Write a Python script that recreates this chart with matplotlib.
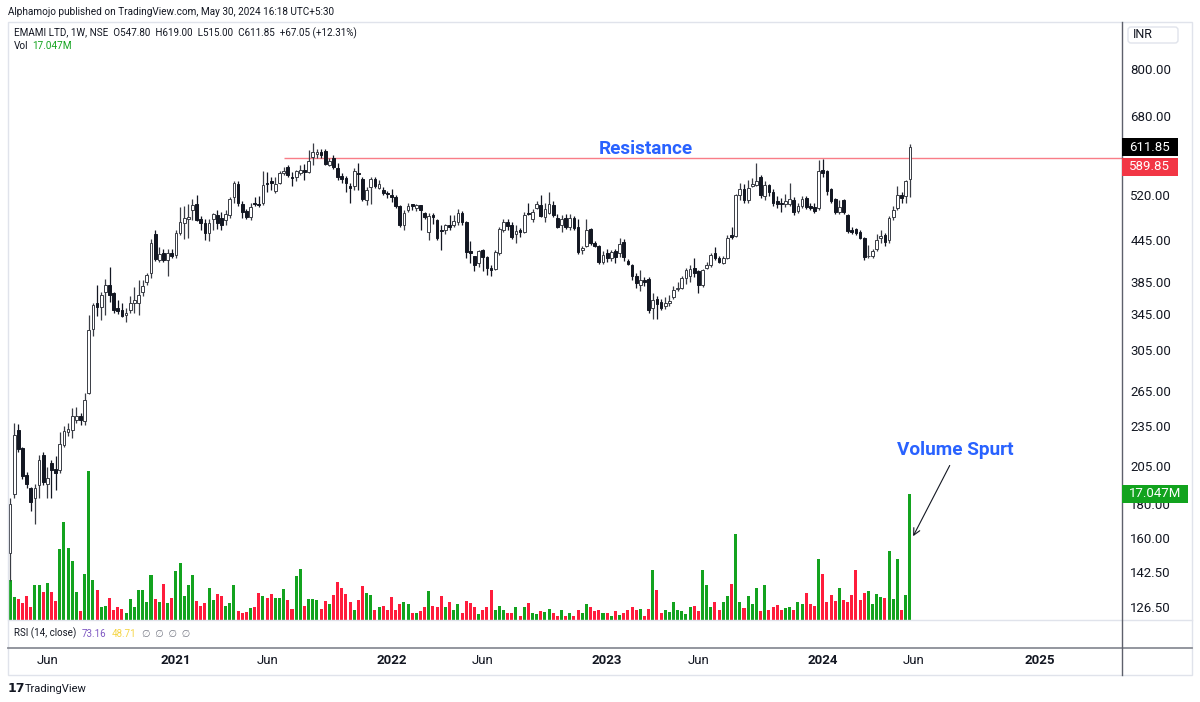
import matplotlib
matplotlib.use('Agg')
import matplotlib.pyplot as plt
import matplotlib.dates as mdates
import matplotlib.ticker as mticker
from matplotlib.patches import Rectangle, FancyBboxPatch
import numpy as np
import pandas as pd

W, H = 1200, 702
FONT = ['Roboto', 'DejaVu Sans']

# ---------------- data (weekly candles, EMAMI LTD NSE) ----------------
opens = [152,186,232,218,199,190,184,192,213,193,
         207,203,202,220,230,232,240,243,239,263,
         328,358,354,372,381,371,352,350,344,350,
         358,359,373,385,397,455,416,426,415,426,
         423,456,471,479,494,504,478,472,456,479,
         485,480,476,485,515,539,503,491,482,505,
         504,505,542,544,527,542,560,572,553,552,
         560,566,562,592,598,601,604,576,590,570,
         554,551,536,535,561,549,510,534,549,532,
         528,523,520,516,500,469,493,503,496,502,
         488,458,485,476,461,461,469,469,473,488,
         473,428,421,411,430,420,405,403,425,460,
         474,469,454,461,458,488,478,496,502,481,
         489,502,480,469,480,465,480,465,430,436,
         462,440,436,413,426,418,428,425,442,414,
         408,394,381,388,390,353,364,360,355,358,
         366,376,378,391,393,405,400,381,405,409,
         425,419,412,419,452,451,519,530,510,536,
         538,553,517,537,524,508,506,503,503,510,
         491,500,514,500,499,497,566,564,530,512,
         490,510,485,461,462,458,448,421,421,431,
         448,452,445,482,497,520,517,547.80]
highs = [184,238,237,219,201,191,193,213,215,204,
         209,212,230,235,238,250,251,246,263,344,
         358,381,372,390,406,372,362,358,352,367,
         379,388,388,398,446,460,434,432,432,432,
         461,498,500,504,513,519,484,479,479,489,
         494,490,493,515,545,545,508,495,505,515,
         517,563,562,552,552,563,572,576,562,566,
         576,577,606,620,608,608,608,590,596,580,
         560,554,541,570,579,552,533,552,553,547,
         533,527,531,519,502,494,506,504,503,502,
         490,488,488,479,469,470,485,485,495,492,
         475,443,421,430,432,421,409,430,466,479,
         479,474,469,464,490,505,495,508,519,506,
         524,508,486,485,486,486,484,479,436,479,
         464,443,438,428,431,430,432,448,446,417,
         410,398,402,392,392,371,367,364,366,368,
         380,386,393,405,408,418,402,403,413,426,
         434,421,421,453,466,522,542,539,547,550,
         579,557,545,540,530,518,514,521,541,516,
         506,517,517,505,506,586,588,566,532,514,
         510,512,487,466,463,461,449,438,432,455,
         461,456,483,500,535,524,547,619.00]
lows = [138,184,215,196,190,176,168,184,192,184,
        184,189,200,219,227,226,238,236,236,262,
        320,343,338,344,360,347,345,342,336,346,
        346,344,367,381,391,414,413,413,393,418,
        419,453,447,448,477,475,461,445,443,461,
        462,461,468,480,505,500,480,478,477,500,
        498,502,525,528,523,539,556,552,535,545,
        556,547,560,575,590,590,576,574,568,547,
        541,525,506,528,528,509,502,504,532,530,
        519,514,507,497,465,461,490,493,492,461,
        478,445,470,445,430,455,461,466,469,469,
        418,412,400,406,400,395,393,401,423,458,
        461,446,441,450,456,485,474,495,481,473,
        487,482,463,458,462,460,461,424,424,435,
        438,434,410,410,413,414,412,420,414,408,
        388,377,374,380,346,340,340,350,351,355,
        363,374,376,383,386,392,371,379,403,406,
        416,411,410,417,447,449,510,506,506,533,
        535,514,510,517,500,497,490,499,500,485,
        488,497,495,493,488,493,553,519,505,487,
        487,487,456,455,453,446,416,418,418,428,
        441,436,440,477,493,505,505,515.00]
closes = [180,228,217,198,193,181,190,209,194,197,
          202,200,221,231,233,243,243,240,257,327,
          356,354,369,381,369,350,349,343,347,359,
          362,369,380,395,440,417,424,416,426,422,
          456,473,480,482,502,477,471,456,471,486,
          471,469,486,513,541,505,490,482,498,503,
          502,537,540,541,540,560,563,556,551,563,
          565,562,584,602,602,596,578,584,572,552,
          549,541,532,563,558,513,528,549,535,539,
          523,521,516,500,469,488,500,500,501,493,
          481,484,481,448,459,469,466,475,489,473,
          427,425,409,428,420,405,402,427,462,474,
          467,450,459,458,485,487,490,504,483,495,
          504,485,465,479,465,480,464,427,433,460,
          441,436,413,423,418,427,420,439,420,410,
          393,384,388,386,350,362,357,353,359,361,
          375,378,391,402,403,398,381,402,409,423,
          418,413,419,448,450,519,530,510,532,540,
          545,519,537,524,506,504,503,508,512,490,
          500,512,498,496,491,563,560,526,508,490,
          498,490,459,458,456,448,420,422,428,445,
          451,442,480,493,520,514,544,611.85]
volumes_m = [5.4,3.1,2.8,2.3,3.3,1.7,4.7,4.8,3.8,5.0,
             3.8,2.6,9.6,13.2,9.8,8.0,3.8,1.2,6.2,20.2,
             5.4,4.1,1.7,1.9,3.0,1.4,1.7,1.5,0.9,2.8,
             1.7,4.0,4.0,2.4,6.1,2.9,2.5,4.9,2.3,3.0,
             6.6,7.7,3.3,4.7,6.1,2.6,1.9,2.3,4.3,2.7,
             3.5,3.3,1.9,2.3,4.8,1.2,1.0,1.1,1.6,1.8,
             3.6,3.2,3.0,3.5,3.0,3.0,4.2,2.7,1.5,5.9,
             6.9,1.9,2.8,2.8,2.7,1.5,2.6,2.1,3.4,5.2,
             4.3,3.5,2.5,1.4,2.7,4.6,3.7,3.4,1.4,1.8,
             1.9,1.3,3.1,1.3,2.1,2.4,2.1,1.0,1.0,1.2,
             1.8,3.9,1.9,1.8,3.3,1.8,2.4,1.4,2.1,0.9,
             2.6,2.3,1.8,0.8,1.3,1.8,4.1,1.3,1.9,1.4,
             0.9,0.9,1.8,0.6,1.7,2.3,0.9,0.8,1.2,1.1,
             1.5,1.0,0.6,1.4,0.5,0.9,0.5,1.3,1.0,2.1,
             1.8,1.2,1.4,0.9,1.0,0.6,1.2,0.7,1.0,1.3,
             1.7,1.4,1.5,0.6,1.5,6.7,4.1,0.9,1.3,1.1,
             2.5,1.4,1.2,0.8,1.7,1.9,1.2,6.8,4.8,1.7,
             2.4,1.4,2.4,3.2,4.9,11.7,2.4,1.6,3.2,2.2,
             4.3,1.2,4.7,1.4,1.7,2.0,1.3,1.6,1.8,1.3,
             2.5,2.1,3.6,2.2,1.9,8.3,6.2,2.5,3.4,2.6,
             4.3,2.7,2.5,3.4,6.8,2.7,3.7,3.9,2.2,3.5,
             3.1,3.0,9.3,2.9,8.3,1.4,3.4,17.047]
first_week = '2020-03-30'
dates = pd.date_range(first_week, periods=len(closes), freq='7D')

price_ticks = [800, 680, 520, 445, 385, 345, 305, 265, 235, 205, 180, 160, 142.5, 126.5]
time_tick_dates = ['2020-06-01', '2021-01-04', '2021-06-07', '2022-01-03', '2022-06-06',
                   '2023-01-02', '2023-06-05', '2024-01-01', '2024-06-03', '2025-01-01']
time_tick_labels = ['Jun', '2021', 'Jun', '2022', 'Jun', '2023', 'Jun', '2024', 'Jun', '2025']
resistance = 589.85
resistance_from = 66          # index of the week where the drawn line starts
last_close = 611.85
last_volume = 17.047

UP_VOL, DN_VOL = '#13a31f', '#ff1c3c'
DARK = '#131722'

# ---------------- figure ----------------
fig = plt.figure(figsize=(12, 7.02), dpi=100)
fig.patch.set_facecolor('white')

def rect(x0, y0, x1, y1):
    return [x0 / W, 1 - y1 / H, (x1 - x0) / W, (y1 - y0) / H]

xn = mdates.date2num(dates.to_pydatetime())
x_left = xn[0] - 3.4
x_right = x_left + 1880.5

o = np.array(opens, float); c = np.array(closes, float)
h = np.array(highs, float); l = np.array(lows, float)
up = c >= o

# volume (behind)
vax = fig.add_axes(rect(8, 22, 1122, 620))
vax.set_xlim(x_left, x_right)
vax.set_ylim(0, 80.9)
vax.axis('off')
vax.bar(xn, volumes_m, width=5.1, color=[UP_VOL if u else DN_VOL for u in up],
        linewidth=0, align='center')

# price
ax = fig.add_axes(rect(8, 22, 1122, 620))
ax.patch.set_alpha(0)
ax.set_yscale('log')
ax.set_xlim(x_left, x_right)
ax.set_ylim(120.9, 940)
for s in ax.spines.values():
    s.set_visible(False)

wick_cols = ['#3a3d45' if u else DARK for u in up]
ax.vlines(xn, l, h, colors=wick_cols, linewidth=0.9, zorder=2)
bot = np.minimum(o, c); top = np.maximum(o, c)
ax.bar(xn, top - bot, bottom=bot, width=4.6,
       color=['white' if u else DARK for u in up],
       edgecolor=wick_cols, linewidth=0.7, zorder=3)

ax.hlines(resistance, xn[resistance_from], x_right, colors='#F7525F',
          linewidth=1.0, alpha=0.75, zorder=1)

ax.yaxis.tick_right()
ax.yaxis.set_minor_locator(mticker.NullLocator())
ax.yaxis.set_minor_formatter(mticker.NullFormatter())
ax.set_yticks(price_ticks)
ax.set_yticklabels([f'{v:.2f}' for v in price_ticks], family=FONT)
ax.tick_params(axis='y', length=0, pad=6, labelsize=9.5, labelcolor=DARK)
ax.set_xticks([])

# ---------------- overlay in pixel space ----------------
ov = fig.add_axes([0, 0, 1, 1])
ov.set_xlim(0, W); ov.set_ylim(H, 0)
ov.axis('off'); ov.patch.set_alpha(0)

def ypix(axis, val):
    return H - axis.transData.transform((x_left, val))[1]

def xpix(val):
    return ax.transData.transform((val, 300))[0]

# frame
ov.add_patch(Rectangle((8, 22), 1184, 653, fill=False, ec='#E0E3EB', lw=1))
ov.plot([8, 1192], [620, 620], color='#E0E3EB', lw=1)
ov.plot([8, 1192], [647.5, 647.5], color='#8a8d96', lw=1.3)
ov.plot([1122, 1122], [22, 675], color='#5d606b', lw=1)

# header
ov.text(8, 12, 'Alphamojo published on TradingView.com, May 30, 2024 16:18 UTC+5:30',
        fontsize=7.2, color=DARK, va='center', ha='left', family=FONT)
ov.text(14, 33, 'EMAMI LTD, 1W, NSE  O547.80  H619.00  L515.00  C611.85  +67.05 (+12.31%)',
        fontsize=7.1, color=DARK, va='center', ha='left', family=FONT)
t = ov.text(14, 46, 'Vol', fontsize=7.2, color=DARK, va='center', ha='left', family=FONT)
ov.annotate('17.047M', xy=(1, 0), xycoords=t, xytext=(3, 0), textcoords='offset points',
            fontsize=7.2, color=UP_VOL, va='bottom', ha='left', family=FONT)

# RSI header
t = ov.text(14, 633, 'RSI (14, close)', fontsize=7.0, color=DARK, va='center', ha='left', family=FONT)
t = ov.annotate('73.16', xy=(1, 0), xycoords=t, xytext=(4, 0), textcoords='offset points',
                fontsize=7.0, color='#7E57C2', va='bottom', ha='left', family=FONT)
t = ov.annotate('48.71', xy=(1, 0), xycoords=t, xytext=(4, 0), textcoords='offset points',
                fontsize=7.0, color='#F5D547', va='bottom', ha='left', family=FONT)
ov.annotate('\u2205  \u2205  \u2205  \u2205', xy=(1, 0), xycoords=t, xytext=(4, 0),
            textcoords='offset points', fontsize=7.0, color='#787B86', va='bottom',
            ha='left', family=FONT)

# INR box
ov.add_patch(FancyBboxPatch((1128, 27), 50, 16, boxstyle='round,pad=0,rounding_size=3',
                            fc='white', ec='#E0E3EB', lw=1))
ov.text(1133, 35, 'INR', fontsize=9, color=DARK, va='center', ha='left', family=FONT)

# price labels
yc = ypix(ax, last_close)
ov.add_patch(Rectangle((1122, yc - 9), 56, 18, fc='#000000', ec='none', zorder=5))
ov.text(1129, yc, f'{last_close:.2f}', fontsize=9.5, color='white', va='center',
        ha='left', family=FONT, zorder=6)
yr = ypix(ax, resistance) + 9
ov.add_patch(Rectangle((1122, yr - 9), 56, 18, fc='#F23645', ec='none', zorder=5))
ov.text(1129, yr, f'{resistance:.2f}', fontsize=9.5, color='white', va='center',
        ha='left', family=FONT, zorder=6)
yv = ypix(vax, last_volume)
ov.add_patch(Rectangle((1122, yv - 9), 66, 18, fc='#12a31e', ec='none', zorder=5))
ov.text(1129, yv, f'{last_volume:.3f}M', fontsize=9.5, color='white', va='center',
        ha='left', family=FONT, zorder=6)

# annotations
ov.text(646, 149, 'Resistance', fontsize=13.7, color='#2962FF', fontweight='bold',
        va='center', ha='center', family=FONT)
ov.text(955, 450, 'Volume Spurt', fontsize=13.7, color='#2962FF', fontweight='bold',
        va='center', ha='center', family=FONT)
tip_x = xpix(xn[-1]) + 2
tip_y = ypix(vax, 11.0)
ov.annotate('', xy=(tip_x, tip_y), xytext=(951, 463),
            arrowprops=dict(arrowstyle='->', color=DARK, lw=0.8, mutation_scale=12))

# time axis labels
for d, lab in zip(time_tick_dates, time_tick_labels):
    px = xpix(mdates.date2num(pd.Timestamp(d).to_pydatetime()))
    bold = lab != 'Jun'
    ov.text(px, 661, lab, fontsize=9.5, color=DARK, va='center', ha='center',
            fontweight='bold' if bold else 'normal', family=FONT)

# TradingView footer
ov.text(8, 689, '17', fontsize=9, color=DARK, va='center', ha='left',
        fontweight='heavy', family=['DejaVu Sans'])
ov.text(25, 689, 'TradingView', fontsize=8, color=DARK, va='center', ha='left', family=FONT)

fig.savefig('out.png', dpi=100)
